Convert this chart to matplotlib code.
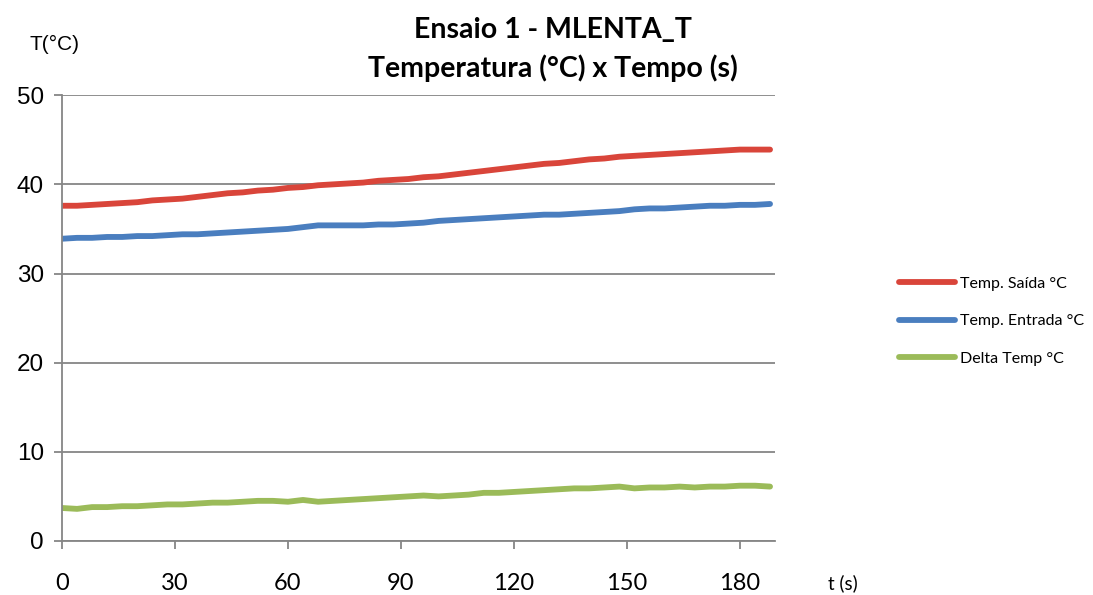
import matplotlib
matplotlib.use("Agg")
import matplotlib.pyplot as plt
import numpy as np

# time (s), sampled every 4 s
tempo = list(range(0, 189, 4))

temp_saida = [37.6, 37.6, 37.7, 37.8, 37.9, 38.0, 38.2, 38.3, 38.4, 38.6,
              38.8, 39.0, 39.1, 39.3, 39.4, 39.6, 39.7, 39.9, 40.0, 40.1,
              40.2, 40.4, 40.5, 40.6, 40.8, 40.9, 41.1, 41.3, 41.5, 41.7,
              41.9, 42.1, 42.3, 42.4, 42.6, 42.8, 42.9, 43.1, 43.2, 43.3,
              43.4, 43.5, 43.6, 43.7, 43.8, 43.9, 43.9, 43.9]

temp_entrada = [33.9, 34.0, 34.0, 34.1, 34.1, 34.2, 34.2, 34.3, 34.4, 34.4,
                34.5, 34.6, 34.7, 34.8, 34.9, 35.0, 35.2, 35.4, 35.4, 35.4,
                35.4, 35.5, 35.5, 35.6, 35.7, 35.9, 36.0, 36.1, 36.2, 36.3,
                36.4, 36.5, 36.6, 36.6, 36.7, 36.8, 36.9, 37.0, 37.2, 37.3,
                37.3, 37.4, 37.5, 37.6, 37.6, 37.7, 37.7, 37.8]

delta_temp = [3.7, 3.6, 3.8, 3.8, 3.9, 3.9, 4.0, 4.1, 4.1, 4.2,
              4.3, 4.3, 4.4, 4.5, 4.5, 4.4, 4.6, 4.4, 4.5, 4.6,
              4.7, 4.8, 4.9, 5.0, 5.1, 5.0, 5.1, 5.2, 5.4, 5.4,
              5.5, 5.6, 5.7, 5.8, 5.9, 5.9, 6.0, 6.1, 5.9, 6.0,
              6.0, 6.1, 6.0, 6.1, 6.1, 6.2, 6.2, 6.1]

x_ticks = [0, 30, 60, 90, 120, 150, 180]
y_ticks = [0, 10, 20, 30, 40, 50]

series = [
    ("Temp. Saída °C", temp_saida, "#D9453A"),
    ("Temp. Entrada °C", temp_entrada, "#4A7EBF"),
    ("Delta Temp °C", delta_temp, "#9BBB59"),
]

fig = plt.figure(figsize=(10.93, 5.95), dpi=100)
ax = fig.add_axes([0.0567, 0.0908, 0.6523, 0.7492])

for label, vals, color in series:
    ax.plot(tempo, vals, color=color, lw=4.2, solid_capstyle="round",
            solid_joinstyle="round", label=label)

grey = "#868686"
ax.set_xlim(0, 189.3)
ax.set_ylim(0, 50)
ax.set_xticks(x_ticks)
ax.set_yticks(y_ticks)
ax.yaxis.grid(True, color=grey, lw=1.3)
ax.set_axisbelow(True)
for s in ["top", "right"]:
    ax.spines[s].set_visible(False)
for s in ["left", "bottom"]:
    ax.spines[s].set_color(grey)
    ax.spines[s].set_linewidth(1.3)
ax.tick_params(axis="x", direction="out", length=6, width=1.3, color=grey,
               pad=17, labelsize=17)
ax.tick_params(axis="y", direction="out", length=6, width=1.3, color=grey,
               pad=7, labelsize=17.5)
for lbl in ax.get_xticklabels():
    lbl.set_fontfamily("Lato")
for lbl in ax.get_yticklabels():
    lbl.set_fontfamily("Liberation Sans")

fig.text(0.506, 0.95, "Ensaio 1 - MLENTA_T", ha="center", va="center",
         fontsize=20.5, fontweight="bold", family="Lato")
fig.text(0.506, 0.886, "Temperatura (°C) x Tempo (s)", ha="center", va="center",
         fontsize=20.5, fontweight="bold", family="Lato")
fig.text(0.05, 0.926, "T(°C)", ha="center", va="center",
         fontsize=15, family="Liberation Sans")
fig.text(0.771, 0.02, "t (s)", ha="center", va="center",
         fontsize=13.5, family="Lato")

fig.legend(loc="center left", bbox_to_anchor=(0.82, 0.46), frameon=False,
           prop={"family": "Lato", "size": 11.5}, handlelength=3.5,
           handletextpad=0.3, labelspacing=1.45, borderaxespad=0.0,
           borderpad=0.2)

fig.savefig("out.png", dpi=100)
